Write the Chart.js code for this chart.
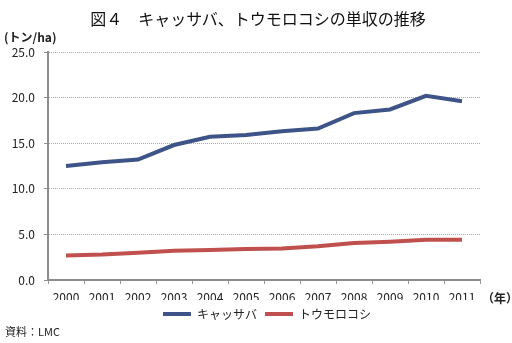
<!DOCTYPE html>
<html lang="ja">
<head>
  <meta charset="UTF-8">
  <title>図４ キャッサバ、トウモロコシの単収の推移</title>
  <script src="https://cdn.jsdelivr.net/npm/chart.js"></script>
  <style>
    body { margin: 0; background: #fff; font-family: "Noto Sans CJK JP", sans-serif; color: #222; }
    .wrap { position: relative; width: 512px; height: 343px; }
    canvas { position: absolute; left: 0; top: 0; }
    .txt { position: absolute; white-space: nowrap; line-height: 1; }
    #title { left: 0; width: 516px; text-align: center; top: 10px; font-size: 16px; font-weight: normal; color: #111; }
    #unit { left: 4px; top: 31px; font-size: 12px; font-weight: bold; }
    #year { left: 482px; top: 292px; font-size: 12px; font-weight: bold; }
    #source { left: 5px; top: 326px; font-size: 11px; }
  </style>
</head>
<body>
  <div class="wrap">
    <canvas id="yieldChart" width="512" height="343"></canvas>
    <div id="title" class="txt">図４　キャッサバ、トウモロコシの単収の推移</div>
    <div id="unit" class="txt">(トン/ha)</div>
    <div id="year" class="txt">（年）</div>
    <div id="source" class="txt">資料：LMC</div>
  </div>
  <script>
    // values (トン/ha)
    const years = ['2000', '2001', '2002', '2003', '2004', '2005', '2006', '2007', '2008', '2009', '2010', '2011'];
    const cassava = [12.5, 12.9, 13.2, 14.8, 15.7, 15.9, 16.3, 16.6, 18.3, 18.7, 20.2, 19.6];
    const maize = [2.7, 2.8, 3.0, 3.2, 3.3, 3.4, 3.45, 3.7, 4.05, 4.2, 4.4, 4.4];
    const yTicks = [0, 5, 10, 15, 20, 25];

    const font = { family: '"Noto Sans CJK JP", sans-serif', size: 12 };

    // nudge the legend to the right so it sits under the middle of the page like the original
    const legendShift = {
      id: 'legendShift',
      afterLayout(chart) {
        if (chart.legend) {
          chart.legend.left += 27;
          chart.legend.right += 27;
        }
      }
    };

    const ctx = document.getElementById('yieldChart').getContext('2d');
    new Chart(ctx, {
      type: 'line',
      data: {
        labels: years,
        datasets: [{
          label: 'キャッサバ',
          data: cassava,
          borderColor: '#3e5488',
          backgroundColor: '#3e5488',
          borderWidth: 4,
          pointRadius: 0,
          tension: 0
        }, {
          label: 'トウモロコシ',
          data: maize,
          borderColor: '#bf504d',
          backgroundColor: '#bf504d',
          borderWidth: 4,
          pointRadius: 0,
          tension: 0
        }]
      },
      options: {
        responsive: false,
        animation: false,
        layout: { padding: { top: 52, right: 32, bottom: 13, left: 0 } },
        plugins: {
          title: { display: false },
          tooltip: { enabled: false },
          legend: {
            position: 'bottom',
            labels: {
              font: font,
              color: '#222',
              boxWidth: 28,
              boxHeight: 4,
              padding: 8,
              generateLabels: (chart) => Chart.defaults.plugins.legend.labels.generateLabels(chart)
                .map(l => Object.assign(l, { lineWidth: 0, fillStyle: l.strokeStyle }))
            }
          }
        },
        scales: {
          x: {
            offset: true,
            grid: { offset: true, drawOnChartArea: false, drawTicks: true, tickLength: 4, tickColor: '#999', tickWidth: 1 },
            border: { color: '#8c8c8c', width: 2 },
            ticks: { font: font, color: '#222', padding: 6, maxRotation: 0, autoSkip: false },
            afterFit: (s) => { s.height = 20; }
          },
          y: {
            min: 0,
            max: 25,
            afterBuildTicks: (s) => { s.ticks = yTicks.map(v => ({ value: v })); },
            grid: { color: '#a8a8a8', lineWidth: 1, drawTicks: true, tickLength: 4, tickColor: '#8c8c8c', tickBorderDash: [] },
            border: { color: '#8c8c8c', width: 2, dash: [1, 1] },
            ticks: { font: font, color: '#222', padding: 9, callback: (v) => Number(v).toFixed(1) },
            afterFit: (s) => { s.width = 48; }
          }
        }
      },
      plugins: [legendShift]
    });
  </script>
</body>
</html>
